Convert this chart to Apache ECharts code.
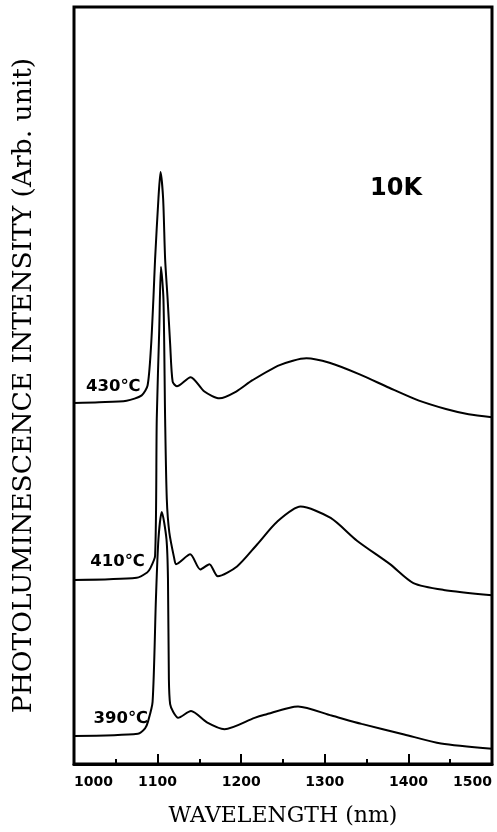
<!DOCTYPE html>
<html><head><meta charset="utf-8">
<script src="https://cdn.jsdelivr.net/npm/echarts@6/dist/echarts.min.js"></script>
<style>html,body{margin:0;padding:0;background:#fff}#c{width:497px;height:832px}</style>
</head><body><div id="c"></div>
<script>
// Wavelength (nm) and PL intensity (arb. unit, offset curves)
const wl430 = [1000, 1030, 1063, 1081, 1088, 1092, 1095, 1097, 1101, 1103.5, 1106.6, 1109, 1112, 1115, 1118, 1123, 1139.5, 1156, 1174, 1194, 1213.5, 1246, 1278, 1305.6, 1341, 1377, 1412.6, 1444.8, 1472, 1500];
const pl430 = [47.7, 47.8, 48.0, 48.7, 50.0, 54.9, 61.5, 66.7, 74.7, 78.2, 74.7, 66.7, 61.4, 55.5, 50.5, 49.9, 51.1, 49.2, 48.3, 49.2, 50.7, 52.7, 53.6, 53.0, 51.5, 49.7, 48.0, 46.9, 46.2, 45.8];

const wl410 = [1000, 1075, 1087.5, 1091, 1097, 1099, 1102, 1104, 1107, 1109, 1111, 1114, 1120, 1122, 1139, 1151, 1162, 1172, 1195, 1219, 1243, 1271, 1307, 1338.5, 1378, 1406, 1442, 1500];
const pl410 = [24.3, 24.6, 25.3, 25.8, 27.5, 45.6, 57.5, 65.7, 61.4, 45.6, 35.0, 30.6, 27.1, 26.4, 27.7, 25.7, 26.4, 24.8, 26.1, 29.0, 32.0, 34.0, 32.5, 29.5, 26.4, 23.9, 23.0, 22.3];

const wl390 = [1000, 1076.5, 1085, 1088.5, 1094, 1098, 1101, 1105, 1110.6, 1112.4, 1113.5, 1115, 1118.6, 1124.5, 1140, 1159, 1180, 1216, 1228, 1268, 1308, 1344, 1395, 1439, 1500];
const pl390 = [3.7, 4.0, 4.7, 5.6, 8.2, 21.8, 29.7, 33.3, 29.7, 24.5, 11.2, 7.9, 6.9, 6.1, 7.0, 5.5, 4.6, 6.1, 6.5, 7.6, 6.4, 5.3, 3.9, 2.7, 2.0];

const curveLabels = ['430℃', '410℃', '390℃'];
const tempText = '10K';
const xTitle = 'WAVELENGTH (nm)';
const yTitle = 'PHOTOLUMINESCENCE INTENSITY (Arb. unit)';

// label anchor points (data units)
const labelAnchors = [[1047, 49.9], [1052, 26.7], [1056, 6.0]];

function zip(a, b) { return a.map((v, i) => [v, b[i]]); }
const curves = [zip(wl430, pl430), zip(wl410, pl410), zip(wl390, pl390)];

const chart = echarts.init(document.getElementById('c'), null, {renderer: 'canvas'});
chart.setOption({
  animation: false,
  backgroundColor: '#fff',
  title: {
    text: tempText, left: 370, top: 177, padding: 0,
    textStyle: {fontFamily: 'DejaVu Sans', fontWeight: 'bold', fontSize: 24, color: '#000'}
  },
  grid: {left: 74, right: 5, top: 7, bottom: 67, show: true, borderColor: '#000', borderWidth: 3},
  xAxis: {
    type: 'value', min: 1000, max: 1500, interval: 100,
    name: xTitle, nameLocation: 'middle', nameGap: 41,
    nameTextStyle: {fontFamily: 'DejaVu Serif', fontSize: 22, color: '#000'},
    axisLine: {show: true, lineStyle: {color: '#000', width: 3}},
    axisTick: {show: true, inside: true, length: 10, lineStyle: {color: '#000', width: 2}},
    minorTick: {show: true, splitNumber: 2, length: 5, lineStyle: {color: '#000', width: 2}},
    axisLabel: {show: true, margin: 11, color: '#000', fontFamily: 'DejaVu Sans', fontWeight: 'bold', fontSize: 14,
      alignMinLabel: 'left', alignMaxLabel: 'right', formatter: v => String(v)},
    splitLine: {show: false}
  },
  yAxis: {
    type: 'value', min: 0, max: 100,
    name: yTitle, nameLocation: 'middle', nameGap: 36, nameRotate: 90,
    nameTextStyle: {fontFamily: 'DejaVu Serif', fontSize: 26.5, color: '#000'},
    axisLine: {show: false}, axisTick: {show: false}, axisLabel: {show: false}, splitLine: {show: false}
  },
  series: curves.map((d, i) => ({
    type: 'line', data: d, showSymbol: false, smooth: 0.25,
    lineStyle: {color: '#000', width: 2}, silent: true,
    markPoint: {
      symbol: 'circle', symbolSize: 1, silent: true,
      itemStyle: {color: 'rgba(0,0,0,0)'},
      label: {show: true, position: 'inside', formatter: curveLabels[i], color: '#000',
        fontFamily: 'DejaVu Sans', fontWeight: 'bold', fontSize: 16.5},
      data: [{coord: labelAnchors[i]}]
    }
  }))
});
</script></body></html>
